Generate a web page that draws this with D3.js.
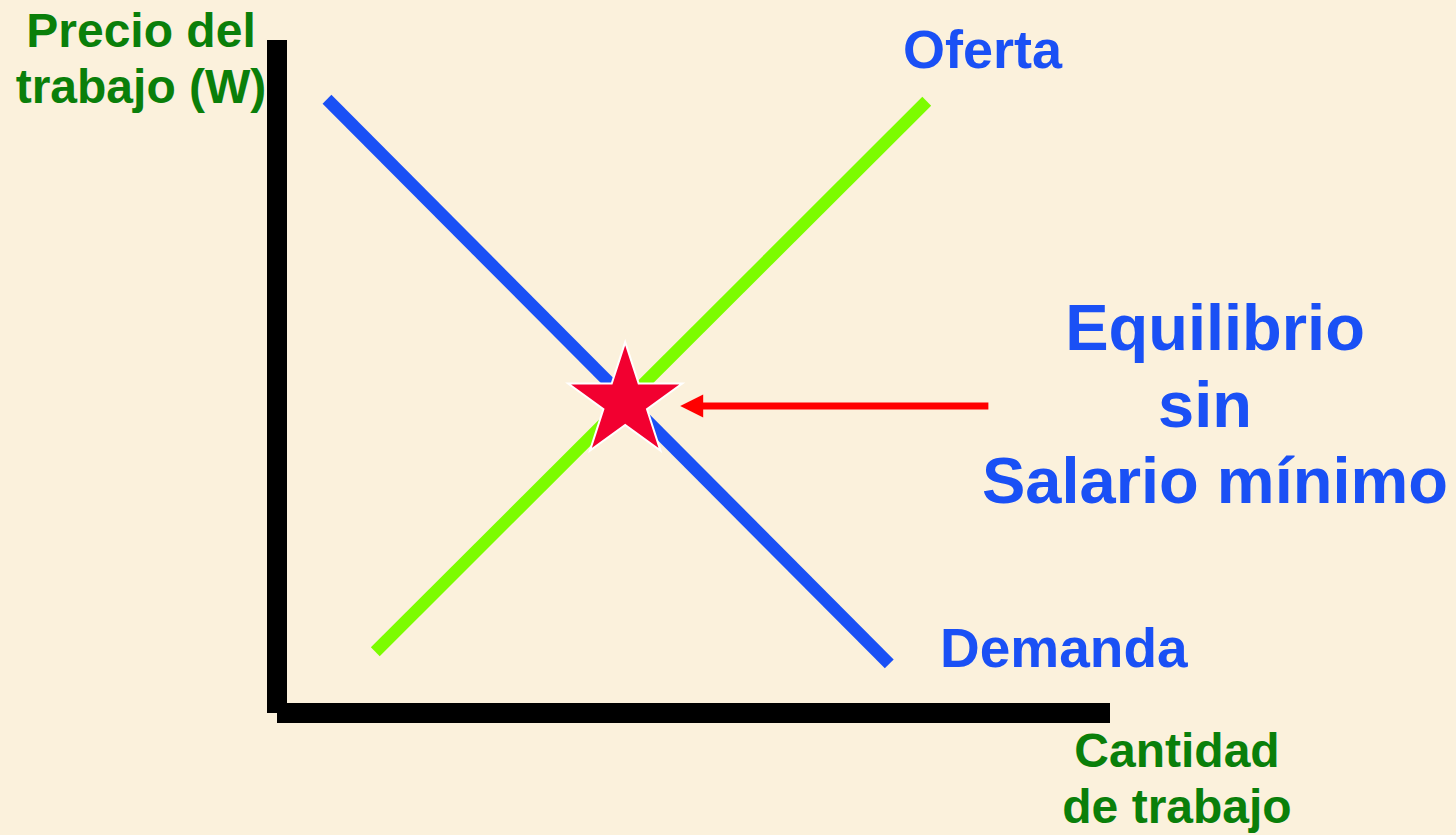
<!DOCTYPE html>
<html>
<head>
<meta charset="utf-8">
<script src="https://cdn.jsdelivr.net/npm/d3@7"></script>
<style>
  html, body { margin: 0; padding: 0; background: #fbf1dc; }
  svg { display: block; }
  text { font-family: "Liberation Sans", Arial, sans-serif; font-weight: bold; }
</style>
</head>
<body>
<svg id="chart" width="1456" height="835"></svg>
<script>
// ---- data (chart units: quantity 0..100, wage 0..100) ----
const domainQ = [0, 100];
const domainW = [0, 100];
const demanda = [ { q: 6.0, w: 91.2 }, { q: 73.5, w: 7.3 } ];
const oferta  = [ { q: 11.8, w: 9.1 }, { q: 78.0, w: 90.9 } ];
const equilibrio = { q: 41.8, w: 46.2 };
const flecha = [ { q: 85.4, w: 45.6 }, { q: 48.4, w: 45.6 } ];
const ejeY = [ { q: 0, w: 0 }, { q: 0, w: 100 } ];
const ejeX = [ { q: 0, w: 0 }, { q: 100, w: 0 } ];
const yLabelLines = ["Precio del", "trabajo (W)"];
const xLabelLines = ["Cantidad", "de trabajo"];
const noteLines = ["Equilibrio", "sin", "Salario mínimo"];
const curveLabels = ["Oferta", "Demanda"];

const svg = d3.select("#chart");
const W = 1456, H = 835;
svg.append("rect").attr("width", W).attr("height", H).attr("fill", "#fbf1dc");

const x = d3.scaleLinear().domain(domainQ).range([277, 1110]);
const y = d3.scaleLinear().domain(domainW).range([713, 40]);
const line = d3.line().x(d => x(d.q)).y(d => y(d.w));

const green = "#0a7f0a";
const blue = "#1a50f5";

// axes
svg.append("path").attr("d", line(ejeY)).attr("stroke", "#000").attr("stroke-width", 20).attr("fill", "none");
svg.append("path").attr("d", line(ejeX)).attr("stroke", "#000").attr("stroke-width", 20).attr("fill", "none");

// curves
svg.append("path").attr("d", line(oferta)).attr("stroke", "#7cfc00").attr("stroke-width", 12.5).attr("fill", "none");
svg.append("path").attr("d", line(demanda)).attr("stroke", blue).attr("stroke-width", 12.5).attr("fill", "none");

// arrow
const a0 = flecha[0], a1 = flecha[1];
svg.append("line")
  .attr("x1", x(a0.q)).attr("y1", y(a0.w))
  .attr("x2", x(a1.q) + 20).attr("y2", y(a1.w))
  .attr("stroke", "#ff0000").attr("stroke-width", 7);
svg.append("path")
  .attr("d", `M${x(a1.q)},${y(a1.w)} L${x(a1.q) + 23},${y(a1.w) - 11.5} L${x(a1.q) + 23},${y(a1.w) + 11.5} Z`)
  .attr("fill", "#ff0000");

// star
const R = 60;
svg.append("path")
  .attr("d", d3.symbol().type(d3.symbolStar).size(R * R / 0.8908130915292852)())
  .attr("transform", `translate(${x(equilibrio.q)},${y(equilibrio.w)})`)
  .attr("fill", "#f20030").attr("stroke", "#ffffff").attr("stroke-width", 2).attr("stroke-linejoin", "miter");

// y-axis label
svg.append("text").attr("x", 141).attr("y", 47).attr("text-anchor", "middle")
  .attr("font-size", 48).attr("fill", green).text(yLabelLines[0]);
svg.append("text").attr("x", 141).attr("y", 103).attr("text-anchor", "middle")
  .attr("font-size", 48).attr("fill", green).text(yLabelLines[1]);

// x-axis label
svg.append("text").attr("x", 1177).attr("y", 767).attr("text-anchor", "middle")
  .attr("font-size", 48).attr("fill", green).text(xLabelLines[0]);
svg.append("text").attr("x", 1177).attr("y", 823).attr("text-anchor", "middle")
  .attr("font-size", 48).attr("fill", green).text(xLabelLines[1]);

// curve labels
svg.append("text").attr("x", 903).attr("y", 68).attr("font-size", 54).attr("fill", blue).text(curveLabels[0]);
svg.append("text").attr("x", 940).attr("y", 667).attr("font-size", 55).attr("fill", blue).text(curveLabels[1]);

// note
const noteX = [1215, 1205, 1215];
const noteY = [350, 427, 503];
noteLines.forEach((t, i) => {
  svg.append("text").attr("x", noteX[i]).attr("y", noteY[i]).attr("text-anchor", "middle")
    .attr("font-size", 65).attr("fill", blue).text(t);
});
</script>
</body>
</html>
